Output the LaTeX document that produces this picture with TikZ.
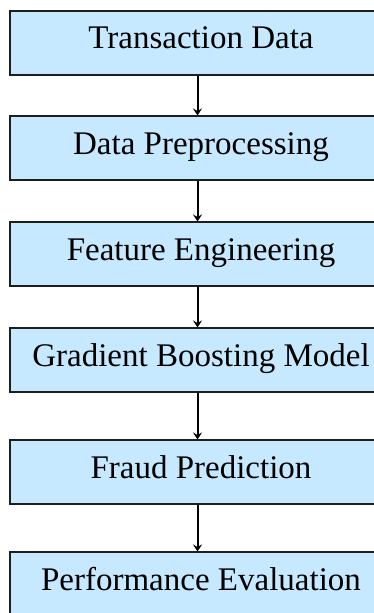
\documentclass[tikz,border=0pt]{standalone}
\usepackage{fontspec}
\setmainfont{Liberation Serif}
\usetikzlibrary{arrows.meta}
\definecolor{boxfill}{RGB}{198,233,255}
\definecolor{boxline}{RGB}{30,30,30}
\tikzset{
  stepbox/.style={draw=boxline, line width=2pt, fill=boxfill, minimum width=382pt, minimum height=64pt, inner sep=0pt, text height=22pt, text depth=10pt, font=\fontsize{33}{40}\selectfont},
  flowarrow/.style={draw=black, line width=2pt, -{Stealth[length=7pt,width=9pt,inset=2.5pt]}}
}
\begin{document}
\begin{tikzpicture}[x=1pt,y=1pt]
\useasboundingbox (0,0) rectangle (374,613);
\clip (0,0) rectangle (374,613);
\node[stepbox] (a) at (201,570) {Transaction Data};
\node[stepbox] (b) at (201,464.5) {Data Preprocessing};
\node[stepbox] (c) at (201,358.5) {Feature Engineering};
\node[stepbox] (d) at (201,252.5) {Gradient Boosting Model};
\node[stepbox] (e) at (201,140.5) {Fraud Prediction};
\node[stepbox] (f) at (201,28.5) {Performance Evaluation};
\foreach \u/\v in {a/b,b/c,c/d,d/e,e/f}{
  \draw[flowarrow] ([xshift=-3.5pt]\u.south) -- ([xshift=-3.5pt]\v.north);
}
\end{tikzpicture}
\end{document}
